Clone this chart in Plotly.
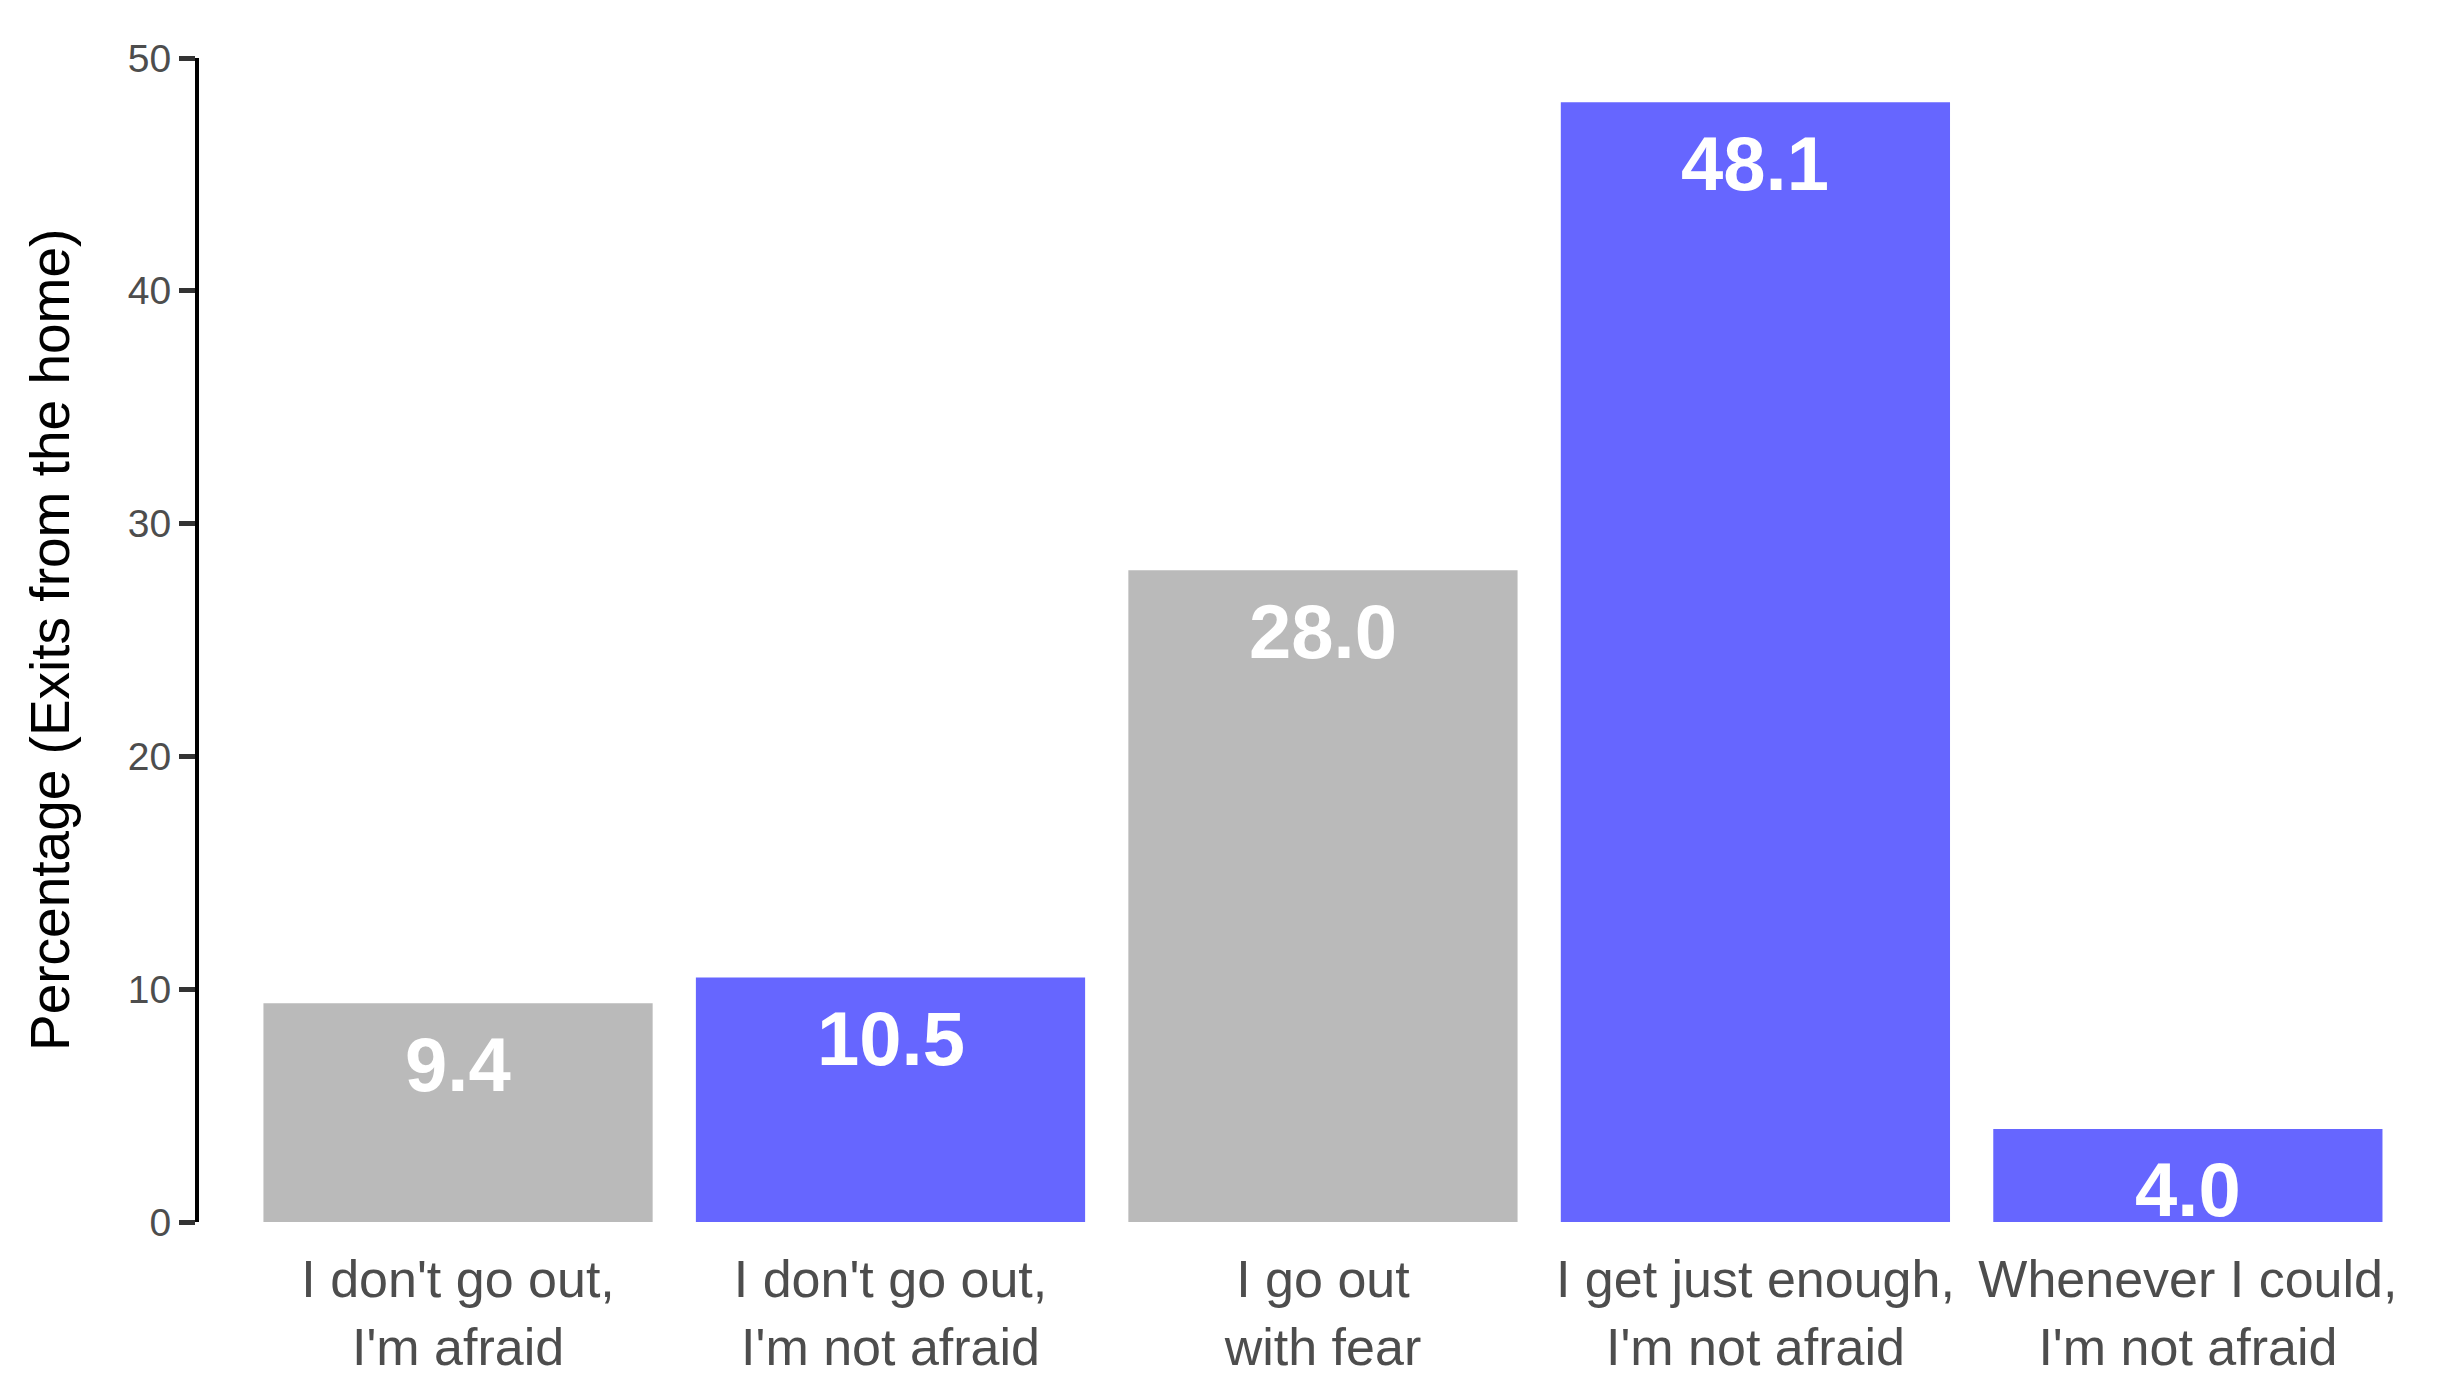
import plotly.graph_objects as go

categories = [
    "I don't go out,<br>I'm afraid",
    "I don't go out,<br>I'm not afraid",
    "I go out<br>with fear",
    "I get just enough,<br>I'm not afraid",
    "Whenever I could,<br>I'm not afraid",
]
values = [9.4, 10.5, 28.0, 48.1, 4.0]
groups = ["afraid", "not afraid", "afraid", "not afraid", "not afraid"]
y_ticks = [0, 10, 20, 30, 40, 50]

color_map = {"afraid": "#BABABA", "not afraid": "#6666FF"}
bar_colors = [color_map[g] for g in groups]

FONT = "Liberation Sans, Arial, sans-serif"

fig = go.Figure()
fig.add_trace(go.Bar(
    x=categories,
    y=values,
    marker=dict(color=bar_colors, line=dict(width=0)),
    width=0.9,
    hoverinfo="x+y",
))

for c, v in zip(categories, values):
    fig.add_annotation(
        x=c, y=v, xref="x", yref="y",
        text=f"{v:.1f}",
        showarrow=False,
        yanchor="middle",
        yshift=-61,
        font=dict(family=FONT, size=76, color="white", weight="bold"),
    )

fig.add_annotation(
    xref="paper", yref="paper", x=0, y=0.5,
    xshift=-149, xanchor="center", yanchor="middle",
    text="Percentage (Exits from the home)",
    textangle=-90, showarrow=False,
    font=dict(family=FONT, size=55, color="black"),
)

fig.update_layout(
    width=2432, height=1379,
    margin=dict(l=191, r=0, t=50, b=165, pad=0),
    paper_bgcolor="white", plot_bgcolor="white",
    showlegend=False,
    bargap=0.1,
    font=dict(family=FONT),
)
fig.update_xaxes(
    type="category",
    range=[-0.599, 4.583],
    showgrid=False, zeroline=False, showline=False,
    ticks="outside", ticklen=12, tickcolor="rgba(0,0,0,0)",
    tickfont=dict(family=FONT, size=52, color="#4D4D4D"),
)
fig.update_yaxes(
    range=[0, 50],
    tickvals=y_ticks,
    showgrid=False, zeroline=False,
    showline=True, linecolor="black", linewidth=4,
    ticks="outside", ticklen=16, tickwidth=5, tickcolor="#333333",
    tickfont=dict(family=FONT, size=39, color="#4D4D4D"),
)

fig.write_html("out.html")
